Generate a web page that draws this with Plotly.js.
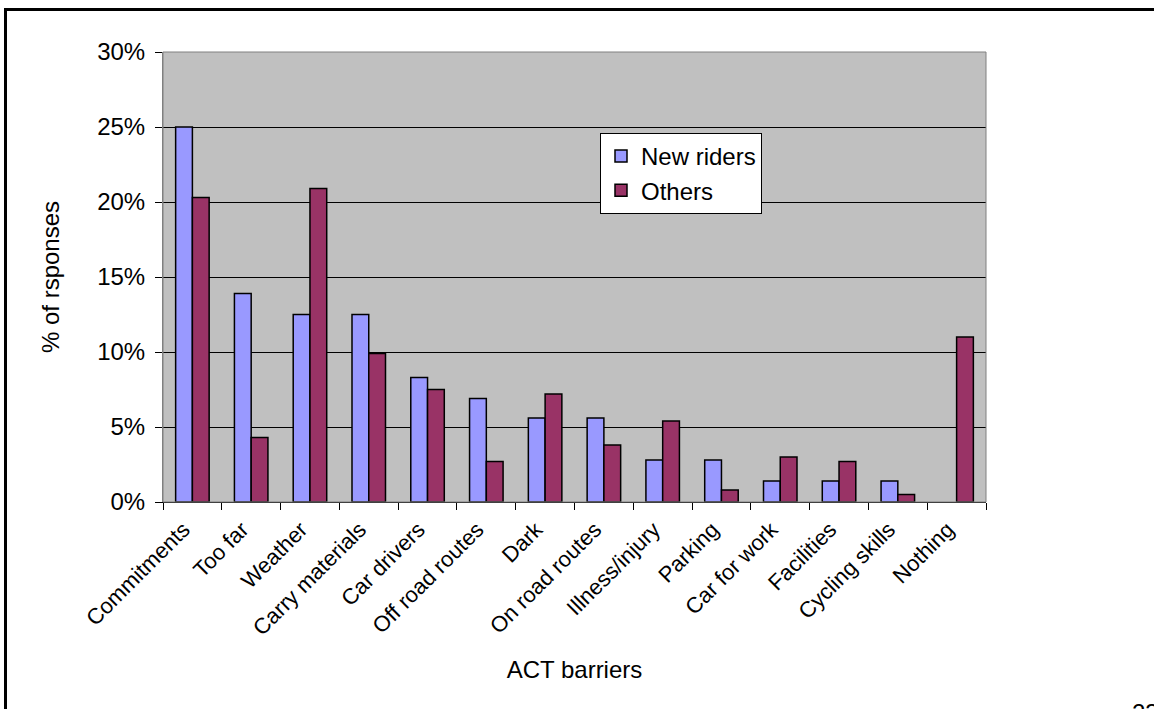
<!DOCTYPE html>
<html>
<head>
<meta charset="utf-8">
<script src="https://cdn.plot.ly/plotly-3.0.1.min.js"></script>
<style>
  html, body { margin: 0; padding: 0; background: #ffffff; }
  #chart { width: 1154px; height: 709px; }
</style>
</head>
<body>
<div id="chart"></div>
<script>
// ACT barriers to cycling: share of responses per group (%)
const categories = [
  "Commitments", "Too far", "Weather", "Carry materials", "Car drivers",
  "Off road routes", "Dark", "On road routes", "Illness/injury", "Parking",
  "Car for work", "Facilities", "Cycling skills", "Nothing"
];
const newRiders = [25.0, 13.9, 12.5, 12.5, 8.3, 6.9, 5.6, 5.6, 2.8, 2.8, 1.4, 1.4, 1.4, 0];
const others = [20.3, 4.3, 20.9, 9.9, 7.5, 2.7, 7.2, 3.8, 5.4, 0.8, 3.0, 2.7, 0.5, 11.0];
const yTickValues = [0, 5, 10, 15, 20, 25, 30];
const yTickLabels = ["0%", "5%", "10%", "15%", "20%", "25%", "30%"];

const FONT = "Liberation Sans, Arial, sans-serif";
const FS = 24;

// plot area in pixels
const W = 1154, H = 709;
const L = 163, R = 986, T = 52, B = 502;
const pw = R - L, ph = B - T;
const px = x => (x - L) / pw;
const py = y => (B - y) / ph;

// no outline on empty bars
const outline = vals => vals.map(v => (v > 0 ? 1.5 : 0));

const traces = [
  {
    type: "bar", name: "New riders", x: categories, y: newRiders,
    marker: { color: "#9999FF", line: { color: "#000000", width: outline(newRiders) } }
  },
  {
    type: "bar", name: "Others", x: categories, y: others,
    marker: { color: "#993366", line: { color: "#000000", width: outline(others) } }
  }
];

const layout = {
  width: W, height: H,
  margin: { l: L, r: W - R, t: T, b: H - B, pad: 0 },
  paper_bgcolor: "#ffffff",
  plot_bgcolor: "#C0C0C0",
  font: { family: FONT, size: FS, color: "#000000" },
  barmode: "group",
  bargap: 0.43,
  bargroupgap: 0,
  showlegend: true,
  legend: {
    x: px(600), y: py(133), xanchor: "left", yanchor: "top",
    bgcolor: "#ffffff", bordercolor: "#000000", borderwidth: 1,
    font: { family: FONT, size: FS, color: "#000000" },
    itemwidth: 30,
    tracegroupgap: 0
  },
  xaxis: {
    type: "category",
    tickson: "boundaries",
    ticks: "outside", ticklen: 7, tickwidth: 1, tickcolor: "#000000",
    tickangle: -45,
    ticklabelshift: -9,
    ticklabelstandoff: 5,
    tickfont: { family: FONT, size: 22, color: "#000000" },
    showline: true, linecolor: "#000000", linewidth: 1,
    showgrid: false, zeroline: false,
    automargin: false,
    title: { text: "ACT barriers", font: { family: FONT, size: FS }, standoff: 22 }
  },
  yaxis: {
    range: [0, 30],
    tickvals: yTickValues, ticktext: yTickLabels,
    ticks: "outside", ticklen: 7, tickwidth: 1, tickcolor: "#000000",
    ticklabelstandoff: 5,
    tickfont: { family: FONT, size: FS, color: "#000000" },
    showline: true, linecolor: "#808080", linewidth: 1,
    showgrid: true, gridcolor: "#000000", gridwidth: 1,
    zeroline: false,
    automargin: false,
    title: { text: "% of rsponses", font: { family: FONT, size: FS }, standoff: 30 }
  },
  shapes: [
    // plot area border
    { type: "rect", xref: "paper", yref: "paper", x0: 0, x1: 1, y0: 0, y1: 1,
      line: { color: "#808080", width: 1 }, fillcolor: "rgba(0,0,0,0)", layer: "above" },
    // page frame
    { type: "rect", xref: "paper", yref: "paper",
      x0: px(5.5), x1: px(1200), y0: py(760), y1: py(9.5),
      line: { color: "#000000", width: 3 }, fillcolor: "rgba(0,0,0,0)" }
  ],
  annotations: [
    { text: "23", xref: "paper", yref: "paper", x: px(1130), y: py(697),
      xanchor: "left", yanchor: "top", showarrow: false,
      font: { family: FONT, size: FS, color: "#000000" } }
  ]
};

Plotly.newPlot("chart", traces, layout, { displayModeBar: false, staticPlot: true });
</script>
</body>
</html>
